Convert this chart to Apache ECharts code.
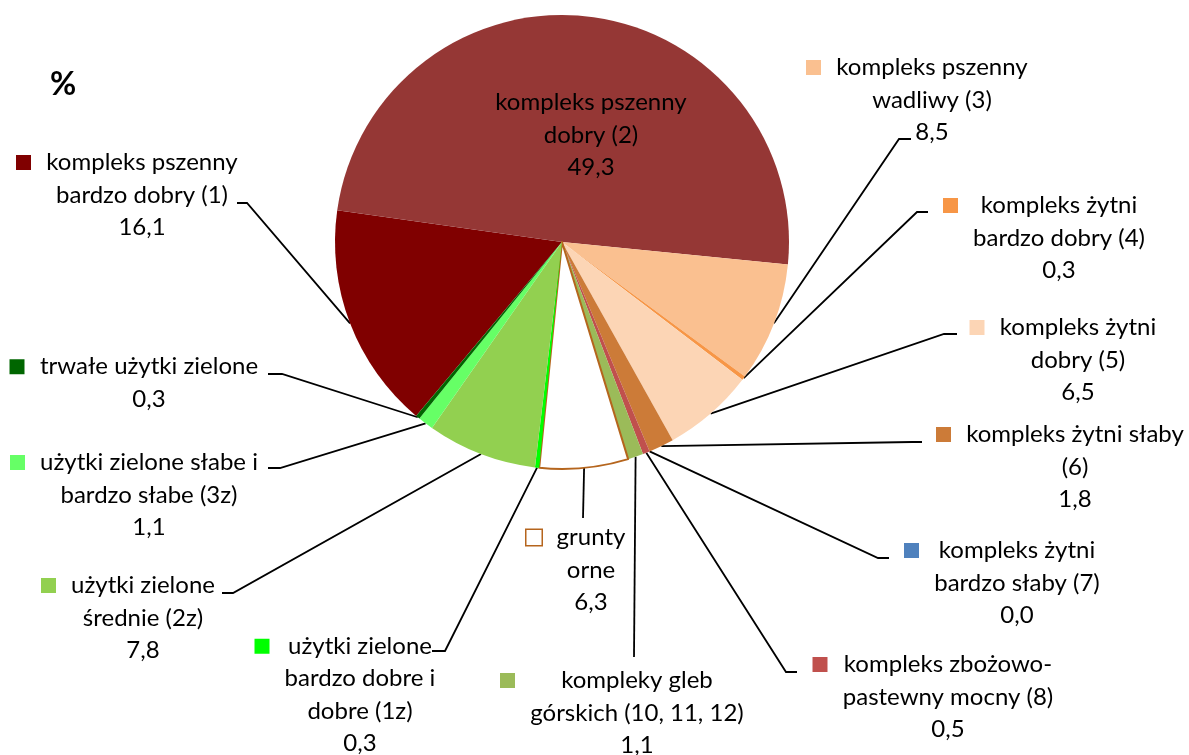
<!DOCTYPE html>
<html>
<head>
<meta charset="utf-8">
<script src="https://cdn.jsdelivr.net/npm/echarts@6/dist/echarts.min.js"></script>
<style>
  html, body { margin: 0; padding: 0; background: #fff; }
  #chart { width: 1189px; height: 755px; }
</style>
</head>
<body>
<div id="chart"></div>
<script>
// kategorie (kolejnosc jak w wykresie, zgodnie z ruchem wskazowek zegara)
const names = [
  'kompleks pszenny\nbardzo dobry (1)',
  'kompleks pszenny\ndobry (2)',
  'kompleks pszenny\nwadliwy (3)',
  'kompleks żytni\nbardzo dobry (4)',
  'kompleks żytni\ndobry (5)',
  'kompleks żytni słaby\n(6)',
  'kompleks żytni\nbardzo słaby (7)',
  'kompleks zbożowo-\npastewny mocny (8)',
  'kompleky gleb\ngórskich (10, 11, 12)',
  'grunty\norne',
  'użytki zielone\nbardzo dobre i\ndobre (1z)',
  'użytki zielone\nśrednie (2z)',
  'użytki zielone słabe i\nbardzo słabe (3z)',
  'trwałe użytki zielone'
];
const values = [16.1, 49.3, 8.5, 0.3, 6.5, 1.8, 0.0, 0.5, 1.1, 6.3, 0.3, 7.8, 1.1, 0.3];

const colors = ['#800000', '#953735', '#FAC090', '#F79646', '#FCD5B5', '#CC7B38', '#4F81BD',
  '#C0504D', '#9BBB59', '#FFFFFF', '#00FF00', '#92D050', '#66FF66', '#006600'];
const gruntyBorder = '#B5651D';

// srodek bloku tekstu etykiety [x, y]
const labelCenters = [
  [142, 195], [591, 135], [932, 100], [1059, 238], [1078, 360], [1075, 467], [1017, 583],
  [948, 697], [637, 713], [591, 570], [360, 695], [143, 618], [149, 495], [149, 383]
];
// koniec linii odniesienia przy etykiecie (zalamanie, koniec)
const leaderEnds = [
  [[247, 203], [237, 203]], null, [[899, 139], [911, 139]], [[917, 212], [928, 212]],
  [[944, 334], [957, 334]], [[912, 442], [922, 442]], [[878, 558], [889, 558]],
  [[786, 672], [797, 672]], [[634, 657], [634, 657]], [[583, 518], [583, 518]],
  [[445, 651], [432, 651]], [[233, 593], [222, 593]], [[280, 468], [268, 468]],
  [[282, 374], [268, 374]]
];

const FONT = 'Lato';
const FS = 24;
const LH = 32.5;
const MARK = 15, GAP = 14;

const ctx = document.createElement('canvas').getContext('2d');
ctx.font = FS + 'px ' + FONT;

function fmt(v) {
  return v.toFixed(1).replace('.', ',');
}

function buildItem(i) {
  const lines = names[i].split('\n').concat([fmt(values[i])]);
  const w = Math.ceil(Math.max.apply(null, lines.map(l => ctx.measureText(l).width))) + 2;
  const hasMarker = i !== 1;
  const text = lines.map((l, k) => (hasMarker ? (k === 0 ? '{m|}{g|}' : '{s|}') : '') + '{t|' + l + '}').join('\n');
  const isGrunty = i === 9;
  return {
    name: names[i],
    value: values[i],
    itemStyle: isGrunty
      ? { color: colors[i], borderColor: gruntyBorder, borderWidth: 2 }
      : { color: colors[i] },
    labelLine: { show: i !== 1 },
    label: {
      formatter: () => text,
      rich: {
        m: {
          width: MARK, height: MARK, lineHeight: LH,
          backgroundColor: colors[i],
          borderColor: isGrunty ? gruntyBorder : colors[i],
          borderWidth: isGrunty ? 1.5 : 0
        },
        g: { width: GAP, lineHeight: LH },
        s: { width: MARK + GAP, lineHeight: LH },
        t: { width: w, align: 'center', lineHeight: LH, fontSize: FS, fontFamily: FONT, color: '#000' }
      }
    },
    _shift: hasMarker ? (MARK + GAP) / 2 : 0
  };
}

const data = names.map((n, i) => buildItem(i));

const chart = echarts.init(document.getElementById('chart'));
chart.setOption({
  animation: false,
  textStyle: { fontFamily: FONT },
  title: {
    text: '%',
    left: 45,
    top: 64,
    textStyle: { fontFamily: FONT, fontWeight: 'bold', fontSize: 32, color: '#000' }
  },
  series: [{
    type: 'pie',
    center: [562, 242],
    radius: 227,
    startAngle: 230,
    clockwise: true,
    avoidLabelOverlap: false,
    silent: true,
    label: {
      show: true,
      position: 'outside',
      fontFamily: FONT,
      fontSize: FS,
      color: '#000'
    },
    labelLine: {
      show: true,
      lineStyle: { color: '#000', width: 1.8 }
    },
    labelLayout: function (params) {
      const i = params.dataIndex;
      const c = labelCenters[i];
      const res = {
        x: c[0] - data[i]._shift,
        y: c[1],
        align: 'center',
        verticalAlign: 'middle'
      };
      if (leaderEnds[i] && params.labelLinePoints) {
        res.labelLinePoints = [params.labelLinePoints[0]].concat(leaderEnds[i]);
      }
      return res;
    },
    data: data
  }]
});
</script>
</body>
</html>
